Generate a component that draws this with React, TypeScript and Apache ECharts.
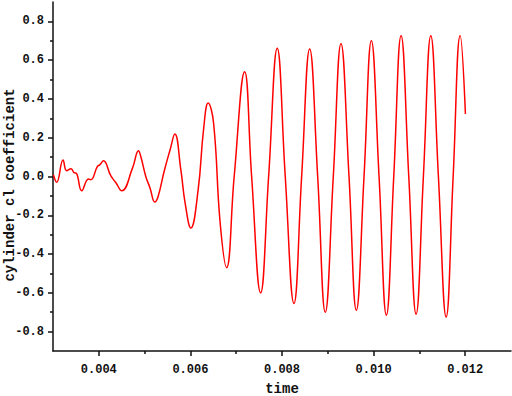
import React, { useEffect, useRef } from "react";
import * as echarts from "echarts";

// time (s) and lift coefficient
const times: number[] = [
  0.003009, 0.003081, 0.003219, 0.003299, 0.003393, 0.003459, 0.003511, 0.003627,
  0.003774, 0.003824, 0.00397, 0.004021, 0.004102, 0.004261, 0.00437, 0.004502,
  0.004736, 0.004867, 0.004917, 0.005026, 0.00512, 0.005223, 0.005295, 0.005426,
  0.005557, 0.00566, 0.005791, 0.005885, 0.00601, 0.006169, 0.006287, 0.006388,
  0.006506, 0.00665, 0.00679, 0.006956, 0.007184, 0.007337, 0.007533, 0.007708,
  0.007896, 0.008071, 0.008261, 0.008429, 0.008604, 0.008779, 0.008945, 0.00912,
  0.009288, 0.009463, 0.009623, 0.009791, 0.009951, 0.010119, 0.010279, 0.01044,
  0.0106, 0.010768, 0.010928, 0.011087, 0.011249, 0.011415, 0.011584, 0.011737,
  0.01189, 0.012005,
];
const clValues: number[] = [
  0.009, -0.03, 0.085, 0.03, 0.04, 0.02, 0.017, -0.074,
  -0.013, -0.017, 0.052, 0.06, 0.081, 0.004, -0.031, -0.074,
  0.043, 0.133, 0.103, 0.0, -0.06, -0.132, -0.103, 0.026,
  0.138, 0.219, 0.035, -0.137, -0.266, -0.069, 0.241, 0.379,
  0.276, -0.24, -0.47, 0.0, 0.54, 0.0, -0.6, 0.0,
  0.661, 0.0, -0.655, 0.0, 0.658, 0.0, -0.7, 0.0,
  0.685, 0.0, -0.69, 0.0, 0.7, 0.0, -0.715, 0.0,
  0.726, 0.0, -0.71, 0.0, 0.726, 0.0, -0.725, 0.0,
  0.726, 0.322,
];

const X_MIN = 0.003, X_MAX = 0.013, X_TICK_MIN = 0.004, X_TICK_MAX = 0.012, X_STEP = 0.002;
const Y_MIN = -0.9, Y_MAX = 0.9, Y_TICK_MIN = -0.8, Y_TICK_MAX = 0.8, Y_STEP = 0.2;
const X_NAME = "time";
const Y_NAME = "cylinder cl coefficient";

export default function App() {
  const ref = useRef<HTMLDivElement>(null);
  useEffect(() => {
    if (!ref.current) return;
    const chart = echarts.init(ref.current, null, { renderer: "svg" });
    const W = 512, H = 396;
    const g = { left: 53, right: 1, top: 2, bottom: 45 };
    const pw = W - g.left - g.right;
    const ph = H - g.top - g.bottom;
    const dx = ((X_TICK_MIN - X_MIN) / (X_MAX - X_MIN)) * pw;
    const dy = ((Y_MAX - Y_TICK_MAX) / (Y_MAX - Y_MIN)) * ph;
    const font = "'Liberation Mono', monospace";
    const lineStyle = { color: "#111", width: 1.5 };
    const txt = { fontFamily: font, fontSize: 12, color: "#111", fontWeight: "bold" as const };
    chart.setOption({
      animation: false,
      backgroundColor: "#fff",
      grid: [
        { ...g },
        { left: g.left + dx, right: g.right + dx, top: g.top + dy, bottom: g.bottom + dy },
      ],
      xAxis: [
        {
          type: "value", gridIndex: 0, min: X_MIN, max: X_MAX,
          axisLine: { show: true, onZero: false, lineStyle },
          axisTick: { show: false }, axisLabel: { show: false }, splitLine: { show: false },
        },
        {
          type: "value", gridIndex: 1, min: X_TICK_MIN, max: X_TICK_MAX, interval: X_STEP,
          offset: dy,
          axisLine: { show: false, onZero: false },
          axisTick: { show: true, inside: false, length: 5, lineStyle },
          minorTick: { show: true, splitNumber: 2, length: 3, lineStyle },
          axisLabel: {
            margin: 13, ...txt,
            formatter: (v: number) => v.toFixed(3), showMinLabel: true, showMaxLabel: true,
          },
          splitLine: { show: false },
        },
      ],
      yAxis: [
        {
          type: "value", gridIndex: 0, min: Y_MIN, max: Y_MAX,
          axisLine: { show: true, onZero: false, lineStyle },
          axisTick: { show: false }, axisLabel: { show: false }, splitLine: { show: false },
        },
        {
          type: "value", gridIndex: 1, min: Y_TICK_MIN, max: Y_TICK_MAX, interval: Y_STEP,
          offset: dx,
          axisLine: { show: false, onZero: false },
          axisTick: { show: true, inside: false, length: 5, lineStyle },
          minorTick: { show: true, splitNumber: 2, length: 3, lineStyle },
          axisLabel: {
            margin: 9, ...txt,
            formatter: (v: number) => v.toFixed(1), showMinLabel: true, showMaxLabel: true,
          },
          splitLine: { show: false },
        },
      ],
      graphic: [
        {
          type: "text", x: 10, y: 185, rotation: Math.PI / 2,
          style: {
            text: Y_NAME, fontFamily: font, fontSize: 14, fontWeight: "bold", fill: "#111",
            textAlign: "center", textVerticalAlign: "middle",
          },
        },
        {
          type: "text", x: 282, y: 389,
          style: {
            text: X_NAME, fontFamily: font, fontSize: 14, fontWeight: "bold", fill: "#111",
            textAlign: "center", textVerticalAlign: "middle",
          },
        },
      ],
      series: [
        {
          type: "line", xAxisIndex: 0, yAxisIndex: 0,
          data: times.map((t, i) => [t, clValues[i]]),
          showSymbol: false, smooth: 0.45,
          lineStyle: { color: "#ff0000", width: 1.5 },
        },
      ],
    });
    return () => chart.dispose();
  }, []);
  return <div ref={ref} style={{ width: 512, height: 396, position: "absolute", left: 0, top: 0 }} />;
}
